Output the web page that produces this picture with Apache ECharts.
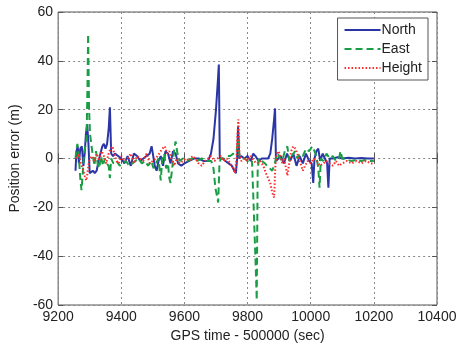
<!DOCTYPE html>
<html>
<head>
<meta charset="utf-8">
<script src="https://cdn.jsdelivr.net/npm/echarts@6/dist/echarts.min.js"></script>
<style>
    html, body { margin: 0; padding: 0; background: #fff; }
    #chart { width: 462px; height: 348px; }
</style>
</head>
<body>
<div id="chart"></div>
<script>
//数据：GPS时间（减去500000秒）与位置误差（米）
var northTime = [9255, 9258, 9262, 9266, 9270, 9275, 9280, 9284, 9288, 9292, 9296, 9300, 9305, 9310, 9316, 9322, 9328, 9334, 9340, 9345, 9350, 9355, 9360, 9364, 9368, 9374, 9380, 9390, 9400, 9410, 9420, 9430, 9440, 9450, 9460, 9470, 9480, 9490, 9496, 9500, 9506, 9512, 9518, 9525, 9532, 9540, 9548, 9556, 9564, 9572, 9580, 9590, 9600, 9615, 9630, 9645, 9660, 9675, 9684, 9692, 9700, 9706, 9709, 9712, 9720, 9730, 9740, 9750, 9758, 9763, 9767, 9770, 9774, 9780, 9790, 9800, 9810, 9818, 9825, 9835, 9845, 9855, 9865, 9872, 9878, 9884, 9887, 9890, 9896, 9905, 9915, 9925, 9935, 9945, 9955, 9965, 9975, 9985, 9995, 10003, 10008, 10012, 10018, 10024, 10030, 10038, 10045, 10052, 10056, 10060, 10070, 10085, 10100, 10120, 10140, 10160, 10180, 10200];
var northErr = [-5, 3, 5, -2, 4, 5, -3, 2, 10, 14, 6, -6, -6, -5, -6, -5, -1, 2, 5, 6, 4, 6, 12, 21, 2, 1, 2, 1, 0, -2, 1, -3, 2, 1, -1, 0, 1, 2, 5, 2, -3, -5, -1, 1, -3, 3, 2, -2, 3, 2, -2, -3, -2, -1, 0, 0, -1, -1, 2, 8, 20, 32, 38.5, 0, 0, -1, -2, -3, -5, -6, 0, 13, 0, 1, 0, 1, -1, 2, 1, -1, 0, 0, 0, 2, 8, 16, 20.5, -1, -1, 1, -2, 2, -1, 2, -3, 1, -2, 2, -1, -2, -10, 0, 3, 4, -1, 2, 0, -2, -12, 0, 0, 0.5, 0, 0.3, 0, 0.2, 0, 0];

var eastTime = [9255, 9258, 9261, 9265, 9270, 9274, 9278, 9282, 9286, 9290, 9293, 9295, 9298, 9301, 9305, 9310, 9315, 9320, 9325, 9330, 9336, 9342, 9348, 9354, 9360, 9364, 9368, 9375, 9385, 9395, 9405, 9415, 9425, 9435, 9445, 9455, 9465, 9475, 9485, 9495, 9502, 9510, 9518, 9525, 9530, 9536, 9542, 9548, 9552, 9556, 9562, 9568, 9572, 9578, 9585, 9595, 9610, 9625, 9640, 9655, 9670, 9685, 9692, 9698, 9704, 9707, 9711, 9715, 9725, 9735, 9745, 9755, 9762, 9767, 9771, 9774, 9780, 9790, 9800, 9808, 9814, 9818, 9822, 9826, 9829, 9832, 9836, 9845, 9855, 9862, 9870, 9878, 9884, 9890, 9896, 9903, 9910, 9918, 9926, 9932, 9940, 9950, 9958, 9965, 9975, 9985, 9995, 10005, 10012, 10018, 10024, 10028, 10032, 10040, 10050, 10060, 10070, 10080, 10090, 10094, 10100, 10115, 10130, 10145, 10160, 10175, 10190, 10200];
var eastErr = [0, 4, 6, 2, -8, -13, -6, 2, 5, 8, 30, 51, 20, 10, 6, 1, -3, 3, -2, -4, 1, -3, 0, -2, -3, -8, 0, -2, -1, -3, -2, -1, -3, -2, -1, 0, -2, -1, -3, -1, -4, -2, 0, -9, 0, 2, -4, -2, -8, -10, -3, 4, 7, 2, -1, 0, -1, 0, -1, 0, -1, -1, -4, -12, -16, -18, -2, 0, 0, 1, 1, 2, 3, 4, 8, 1, 0, 0, -1, -2, -1, -15, -30, -45, -58, -5, 0, -1, -2, -3, -4, -5, -3, 0, 2, 0, -1, 3, 5, -1, 1, 3, 0, 2, 1, 4, 3, 5, 3, 1, -4, -12, 0, -1, 2, 0, 1, -1, 0, 3, 0, -0.5, -1, -0.5, -1, -0.5, -1, -1];

var heightTime = [9258, 9265, 9272, 9278, 9284, 9289, 9293, 9297, 9302, 9308, 9315, 9322, 9330, 9338, 9345, 9352, 9360, 9366, 9372, 9378, 9385, 9392, 9400, 9410, 9420, 9430, 9440, 9450, 9460, 9470, 9480, 9490, 9500, 9510, 9520, 9530, 9538, 9545, 9552, 9560, 9568, 9575, 9585, 9595, 9605, 9615, 9625, 9635, 9645, 9655, 9665, 9675, 9685, 9695, 9705, 9715, 9725, 9735, 9745, 9755, 9760, 9765, 9768, 9771, 9774, 9780, 9790, 9800, 9810, 9820, 9830, 9840, 9850, 9858, 9865, 9872, 9878, 9884, 9888, 9893, 9898, 9904, 9910, 9916, 9922, 9926, 9932, 9938, 9945, 9952, 9960, 9968, 9975, 9982, 9990, 10000, 10010, 10020, 10030, 10040, 10050, 10060, 10070, 10080, 10090, 10100, 10115, 10130, 10145, 10160, 10175, 10190, 10200];
var heightErr = [0, 2, -2, -4, -7, -9, -6, -2, 1, 0, -1, 2, -1, 3, 1, -2, 2, 4, 5, 2, -1, -2, 1, -1, 0, 2, -2, 1, 0, -1, 2, -2, -1, 0, 2, 4, 5, 2, 3, -1, -3, 0, -2, -1, 0, -1, 1, 0, -2, -3, -1, 0, 1, -1, 0, 1, -1, 0, -2, -4, -6, 0, 10, 16, 2, -1, 0, -1, 1, -1, -2, -1, -3, -6, -8, -10, -14, -16, -3, 2, 3, 1, -2, 0, -4, -7, -2, 3, 5, 4, 1, -2, -5, -3, -1, -2, 0, -1, -3, -2, -1, -2, -3, -1, -3, -2, -1, -2, -1, -2, -1, -2, -2];

var xTicks = [9200, 9400, 9600, 9800, 10000, 10200, 10400];
var yTicks = [-60, -40, -20, 0, 20, 40, 60];

function pairs(t, v) {
    var out = [];
    for (var i = 0; i < t.length; i++) {
        out.push([t[i], v[i]]);
    }
    return out;
}

var chart = echarts.init(document.getElementById("chart"));

var font = "Liberation Sans, Arial, sans-serif";
var labelStyle = { color: "#222", fontSize: 14, fontFamily: font };

var option = {
    backgroundColor: "#fff",
    animation: false,
    grid: {
        left: 58,
        right: 25,
        top: 12,
        bottom: 39,
        show: true,
        borderColor: "#555",
        borderWidth: 1
    },
    legend: {
        orient: "vertical",
        right: 34,
        top: 18,
        padding: [5, 6, 5, 6],
        backgroundColor: "#fff",
        borderColor: "#555",
        borderWidth: 1,
        itemWidth: 36,
        itemHeight: 14,
        itemGap: 5,
        itemStyle: { opacity: 0 },
        textStyle: { color: "#222", fontSize: 14, fontFamily: font, padding: [0, 0, 0, -4] },
        data: ["North", "East", "Height"]
    },
    xAxis: [
        {
            type: "value",
            min: xTicks[0],
            max: xTicks[xTicks.length - 1],
            interval: 200,
            name: "GPS time - 500000 (sec)",
            nameLocation: "middle",
            nameGap: 24,
            nameTextStyle: labelStyle,
            axisLine: { show: false },
            axisTick: { show: true, inside: true, length: 5, lineStyle: { color: "#555" } },
            axisLabel: Object.assign({
                margin: 5,
                showMinLabel: true,
                showMaxLabel: true,
                formatter: function(v) { return String(v); }
            }, labelStyle),
            splitLine: { show: true, lineStyle: { type: [2, 3], color: "#888" } }
        },
        {
            type: "value",
            position: "top",
            min: xTicks[0],
            max: xTicks[xTicks.length - 1],
            interval: 200,
            axisLine: { show: false },
            axisTick: { show: true, inside: true, length: 5, lineStyle: { color: "#555" } },
            axisLabel: { show: false },
            splitLine: { show: false }
        }
    ],
    yAxis: [
        {
            type: "value",
            min: yTicks[0],
            max: yTicks[yTicks.length - 1],
            interval: 20,
            name: "Position error (m)",
            nameLocation: "middle",
            nameGap: 31,
            nameTextStyle: labelStyle,
            axisLine: { show: false },
            axisTick: { show: true, inside: true, length: 5, lineStyle: { color: "#555" } },
            axisLabel: Object.assign({ margin: 5 }, labelStyle),
            splitLine: { show: true, lineStyle: { type: [2, 3], color: "#888" } }
        },
        {
            type: "value",
            position: "right",
            min: yTicks[0],
            max: yTicks[yTicks.length - 1],
            interval: 20,
            axisLine: { show: false },
            axisTick: { show: true, inside: true, length: 5, lineStyle: { color: "#555" } },
            axisLabel: { show: false },
            splitLine: { show: false }
        }
    ],
    series: [
        {
            name: "North",
            type: "line",
            showSymbol: false,
            symbol: "none",
            data: pairs(northTime, northErr),
            lineStyle: { color: "#2b36a6", width: 2 },
            itemStyle: { color: "#2b36a6" },
            z: 3
        },
        {
            name: "East",
            type: "line",
            showSymbol: false,
            symbol: "none",
            data: pairs(eastTime, eastErr),
            lineStyle: { color: "#1a9e45", width: 2, type: [7, 4] },
            itemStyle: { color: "#1a9e45" },
            z: 4
        },
        {
            name: "Height",
            type: "line",
            showSymbol: false,
            symbol: "none",
            data: pairs(heightTime, heightErr),
            lineStyle: { color: "#ff2b2b", width: 2, type: [1.5, 2] },
            itemStyle: { color: "#ff2b2b" },
            z: 5
        }
    ]
};

chart.setOption(option);
</script>
</body>
</html>
